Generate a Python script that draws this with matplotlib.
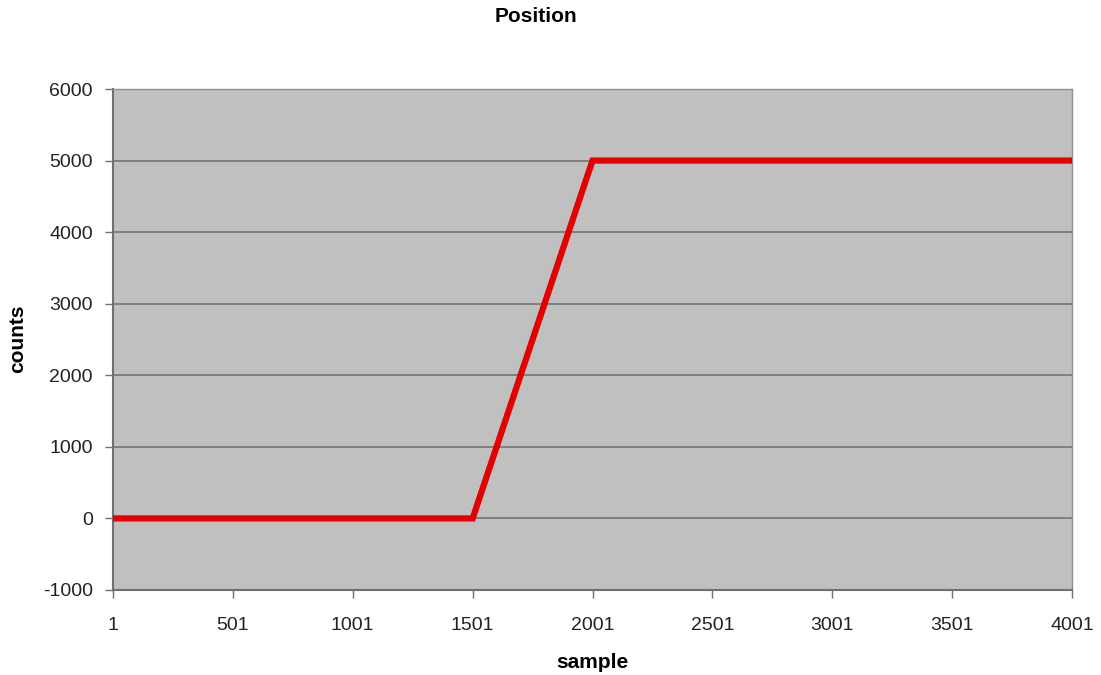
import matplotlib
matplotlib.use("Agg")
import matplotlib.pyplot as plt

# Position profile: flat, linear ramp, flat
sample = [1, 1501, 2001, 4001]
counts = [0, 0, 5000, 5000]

x_ticks = [1, 501, 1001, 1501, 2001, 2501, 3001, 3501, 4001]
y_ticks = [-1000, 0, 1000, 2000, 3000, 4000, 5000, 6000]

plt.rcParams['font.family'] = ['Liberation Sans', 'DejaVu Sans']

fig = plt.figure(figsize=(11.01, 6.75), dpi=100)
ax = fig.add_axes([113/1101, 1 - 590/675, (1072 - 113)/1101, (590 - 89)/675])
ax.set_facecolor('#c0c0c0')

ax.plot(sample, counts, color='#e30000', linewidth=4.5, solid_joinstyle='miter', zorder=3)

ax.set_xlim(1, 4001)
ax.set_ylim(-1000, 6000)
ax.set_xticks(x_ticks)
ax.set_xticklabels([str(v) for v in x_ticks])
ax.set_yticks(y_ticks)
ax.set_yticklabels([str(v) for v in y_ticks])

ax.yaxis.grid(True, color='#7a7a7a', linewidth=1.3)
ax.set_axisbelow(True)

for side in ['left', 'bottom']:
    ax.spines[side].set_color('#707070')
    ax.spines[side].set_linewidth(1.5)
for side in ['right', 'top']:
    ax.spines[side].set_color('#909090')
    ax.spines[side].set_linewidth(1.0)

ax.tick_params(axis='both', direction='out', length=6, width=1, color='#707070',
               labelsize=14, labelcolor='#222222')
ax.tick_params(axis='y', pad=8.5)
ax.tick_params(axis='x', pad=13.5)

xl = ax.set_xlabel('sample', fontsize=15, fontweight='bold')
ax.xaxis.set_label_coords((592 - 113) / 959, (590 - 663) / 501)
xl.set_va('center')
yl = ax.set_ylabel('counts', fontsize=15, fontweight='bold')
ax.yaxis.set_label_coords((17.5 - 113) / 959, (590 - 339) / 501)
yl.set_va('center')
yl.set_ha('center')

fig.text(536 / 1101, 1 - 16.5 / 675, 'Position', ha='center', va='center',
         fontsize=15, fontweight='bold')

fig.savefig('out.png', dpi=100)
